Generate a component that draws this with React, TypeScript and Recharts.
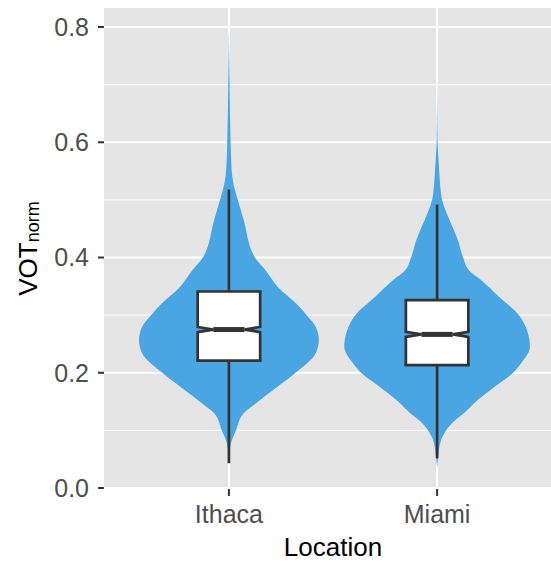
import { ComposedChart, Area, XAxis, YAxis, CartesianGrid, ReferenceLine } from 'recharts'

const locations = ['Ithaca', 'Miami']
const locationPos = [1, 2]

// violin outlines: VOT level -> half width (in x units)
const ithacaLevels = [0.049, 0.078, 0.1, 0.13, 0.147, 0.176, 0.2, 0.234, 0.257, 0.28, 0.3, 0.32, 0.349, 0.378, 0.4, 0.465, 0.5, 0.517, 0.552, 0.6, 0.696, 0.75, 0.795]
const ithacaHalfWidth = [0, 0.01, 0.034, 0.072, 0.13, 0.235, 0.32, 0.417, 0.432, 0.417, 0.374, 0.323, 0.235, 0.176, 0.125, 0.071, 0.043, 0.029, 0.013, 0.008, 0.0035, 0.0015, 0]
const miamiLevels = [0.035, 0.054, 0.083, 0.1, 0.118, 0.13, 0.147, 0.176, 0.2, 0.216, 0.245, 0.274, 0.3, 0.332, 0.361, 0.378, 0.4, 0.43, 0.465, 0.5, 0.534, 0.563, 0.6, 0.65, 0.72]
const miamiHalfWidth = [0, 0.005, 0.019, 0.043, 0.088, 0.13, 0.178, 0.278, 0.365, 0.403, 0.446, 0.432, 0.393, 0.297, 0.211, 0.153, 0.125, 0.1, 0.06, 0.024, 0.013, 0.008, 0.0025, 0.001, 0]

// lower whisker, q1, median, q3, upper whisker
const ithacaBox = [0.043, 0.221, 0.275, 0.341, 0.518]
const miamiBox = [0.0515, 0.2134, 0.2666, 0.326, 0.492]

const yTicks = [0, 0.2, 0.4, 0.6, 0.8]
const yMinorTicks = [0.1, 0.3, 0.5, 0.7]

const BOX_HALF = 0.15
const NOTCH_HALF = 0.075
const NOTCH = 0.0045
const INK = '#333333'
const FONT = '"Liberation Sans", Arial, Helvetica, sans-serif'

const violinRows = (levels: number[], widths: number[], c: number) =>
  levels.map((v, i) => ({ v, range: [c - widths[i], c + widths[i]] }))

const boxRows = (stats: number[], c: number) => {
  const [, q1, med, q3] = stats
  return [
    { v: q1, range: [c - BOX_HALF, c + BOX_HALF] },
    { v: med - NOTCH, range: [c - BOX_HALF, c + BOX_HALF] },
    { v: med, range: [c - NOTCH_HALF, c + NOTCH_HALF] },
    { v: med + NOTCH, range: [c - BOX_HALF, c + BOX_HALF] },
    { v: q3, range: [c - BOX_HALF, c + BOX_HALF] },
  ]
}

const groups = [
  { name: locations[0], c: locationPos[0], violin: violinRows(ithacaLevels, ithacaHalfWidth, locationPos[0]), box: ithacaBox },
  { name: locations[1], c: locationPos[1], violin: violinRows(miamiLevels, miamiHalfWidth, locationPos[1]), box: miamiBox },
]

const YTitle = (props: any) => {
  const vb = props.viewBox || { x: 0, y: 8, width: 104, height: 481 }
  const cy = vb.y + vb.height / 2
  const x = 37
  return (
    <text x={x} y={cy} transform={`rotate(-90, ${x}, ${cy})`} textAnchor="middle" fontFamily={FONT} fill="#000">
      <tspan fontSize={26}>VOT</tspan>
      <tspan fontSize={18} dy={2}>norm</tspan>
    </text>
  )
}

const XTitle = (props: any) => {
  const vb = props.viewBox || { x: 104, y: 489, width: 458, height: 76 }
  return (
    <text x={vb.x + vb.width / 2} y={vb.y + 67} textAnchor="middle" fontFamily={FONT} fontSize={26} fill="#000">
      Location
    </text>
  )
}

export default function App() {
  return (
    <div style={{ position: 'absolute', left: 0, top: 0, width: 551, height: 565, overflow: 'hidden', background: '#fff' }}>
      <ComposedChart width={562} height={565} layout="vertical" margin={{ top: 8, right: 0, bottom: 0, left: 0 }}>
        <CartesianGrid fill="#E5E5E5" stroke="#fff" strokeWidth={1} horizontal={true} vertical={false} horizontalValues={yMinorTicks} />
        <CartesianGrid stroke="#fff" strokeWidth={2} horizontalValues={yTicks} verticalValues={locationPos} />
        <XAxis
          type="number"
          dataKey="range"
          domain={[0.4, 2.6]}
          ticks={locationPos}
          tickFormatter={(v: number) => locations[locationPos.indexOf(v)] ?? ''}
          allowDataOverflow
          height={76}
          axisLine={false}
          tickLine={{ stroke: INK, strokeWidth: 2 }}
          tickSize={7}
          tickMargin={9}
          tick={{ fontSize: 25, fill: '#4D4D4D', fontFamily: FONT }}
          label={<XTitle />}
        />
        <YAxis
          type="number"
          dataKey="v"
          domain={[-0.0017, 0.833]}
          ticks={yTicks}
          tickFormatter={(v: number) => v.toFixed(1)}
          allowDataOverflow
          reversed
          width={104}
          axisLine={false}
          tickLine={{ stroke: INK, strokeWidth: 2 }}
          tickSize={6}
          tickMargin={9}
          tick={{ fontSize: 25, fill: '#4D4D4D', fontFamily: FONT }}
          label={<YTitle />}
        />
        {groups.map((g) => (
          <Area
            key={`violin-${g.name}`}
            data={g.violin}
            dataKey="range"
            type="monotone"
            fill="#4aa5e3"
            fillOpacity={1}
            stroke="none"
            isAnimationActive={false}
            dot={false}
            activeDot={false}
          />
        ))}
        {groups.map((g) => (
          <ReferenceLine key={`wlo-${g.name}`} segment={[{ x: g.c, y: g.box[0] }, { x: g.c, y: g.box[1] }]} stroke={INK} strokeWidth={2.7} />
        ))}
        {groups.map((g) => (
          <ReferenceLine key={`whi-${g.name}`} segment={[{ x: g.c, y: g.box[3] }, { x: g.c, y: g.box[4] }]} stroke={INK} strokeWidth={2.7} />
        ))}
        {groups.map((g) => (
          <Area
            key={`box-${g.name}`}
            data={boxRows(g.box, g.c)}
            dataKey="range"
            type="linear"
            fill="#fff"
            fillOpacity={1}
            stroke={INK}
            strokeWidth={2.7}
            isAnimationActive={false}
            dot={false}
            activeDot={false}
          />
        ))}
        {groups.map((g) => (
          <ReferenceLine key={`q1-${g.name}`} segment={[{ x: g.c - BOX_HALF, y: g.box[1] }, { x: g.c + BOX_HALF, y: g.box[1] }]} stroke={INK} strokeWidth={2.7} strokeLinecap="square" />
        ))}
        {groups.map((g) => (
          <ReferenceLine key={`q3-${g.name}`} segment={[{ x: g.c - BOX_HALF, y: g.box[3] }, { x: g.c + BOX_HALF, y: g.box[3] }]} stroke={INK} strokeWidth={2.7} strokeLinecap="square" />
        ))}
        {groups.map((g) => (
          <ReferenceLine key={`med-${g.name}`} segment={[{ x: g.c - NOTCH_HALF, y: g.box[2] }, { x: g.c + NOTCH_HALF, y: g.box[2] }]} stroke={INK} strokeWidth={5} />
        ))}
      </ComposedChart>
    </div>
  )
}
